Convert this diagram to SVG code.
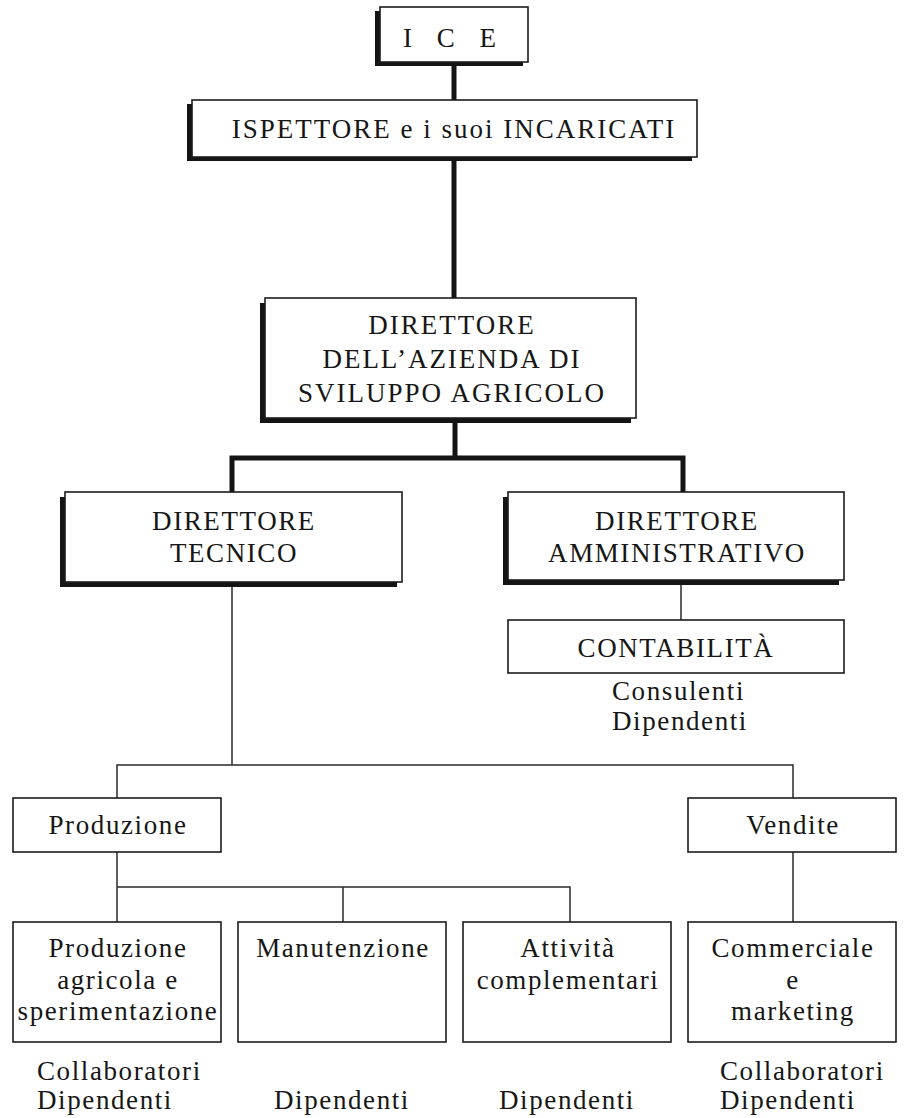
<svg xmlns="http://www.w3.org/2000/svg" width="904" height="1118" viewBox="0 0 904 1118">
<style>
.bx{fill:#fff;stroke:#1c1c1c;stroke-width:1.6}
.sh{fill:#141414}
.thick{fill:none;stroke:#141414;stroke-width:5;stroke-linejoin:miter}
.thin{fill:none;stroke:#2a2a2a;stroke-width:1.5}
text{font-family:"Liberation Serif","Times New Roman",serif;font-size:27px;fill:#161616;letter-spacing:1.6px}
.c{text-anchor:middle}
</style>
<rect width="904" height="1118" fill="#fff"/>
<g id="connectors">
<path class="thick" d="M454 64 V100"/>
<path class="thick" d="M454 157 V298"/>
<path class="thick" d="M455 420 V458"/>
<path class="thick" d="M232 494 V458 H683 V494"/>
<path class="thin" d="M232 582 V765"/>
<path class="thin" d="M117 798 V765 H793 V798"/>
<path class="thin" d="M681 582 V620"/>
<path class="thin" d="M117 852 V922"/>
<path class="thin" d="M117 887 H570 V922"/>
<path class="thin" d="M343 887 V922"/>
<path class="thin" d="M793 852 V922"/>
</g>
<g id="ice">
<rect class="sh" x="375" y="11" width="148" height="55"/>
<rect class="bx" x="380" y="7" width="148" height="55"/>
<text class="c" x="454" y="47" style="letter-spacing:9px">I C E</text>
</g>
<g id="ispettore">
<rect class="sh" x="187" y="104" width="505" height="57"/>
<rect class="bx" x="192" y="100" width="505" height="57"/>
<text class="c" x="454" y="138" style="letter-spacing:2px">ISPETTORE e i suoi INCARICATI</text>
</g>
<g id="direttore-azienda">
<rect class="sh" x="260" y="303" width="371" height="120"/>
<rect class="bx" x="265" y="298" width="371" height="120"/>
<text class="c" x="452" y="334" style="letter-spacing:2px">DIRETTORE</text>
<text class="c" x="452" y="368" style="letter-spacing:2px">DELL’AZIENDA DI</text>
<text class="c" x="452" y="402" style="letter-spacing:2px">SVILUPPO AGRICOLO</text>
</g>
<g id="direttore-tecnico">
<rect class="sh" x="60" y="497" width="337" height="90"/>
<rect class="bx" x="65" y="492" width="337" height="90"/>
<text class="c" x="234" y="530">DIRETTORE</text>
<text class="c" x="234" y="562">TECNICO</text>
</g>
<g id="direttore-amministrativo">
<rect class="sh" x="503" y="497" width="336" height="88"/>
<rect class="bx" x="508" y="492" width="336" height="88"/>
<text class="c" x="677" y="530">DIRETTORE</text>
<text class="c" x="677" y="562">AMMINISTRATIVO</text>
</g>
<g id="contabilita">
<rect class="bx" x="508" y="620" width="336" height="53"/>
<text class="c" x="676" y="657">CONTABILITÀ</text>
<text x="612" y="700">Consulenti</text>
<text x="612" y="730">Dipendenti</text>
</g>
<g id="produzione">
<rect class="bx" x="13" y="798" width="208" height="54"/>
<text class="c" x="118" y="834">Produzione</text>
</g>
<g id="vendite">
<rect class="bx" x="688" y="798" width="208" height="54"/>
<text class="c" x="793" y="834">Vendite</text>
</g>
<g id="produzione-agricola">
<rect class="bx" x="13" y="922" width="208" height="120"/>
<text class="c" x="118" y="957">Produzione</text>
<text class="c" x="118" y="989">agricola e</text>
<text class="c" x="118" y="1020">sperimentazione</text>
<text x="37" y="1080">Collaboratori</text>
<text x="37" y="1109">Dipendenti</text>
</g>
<g id="manutenzione">
<rect class="bx" x="238" y="922" width="208" height="120"/>
<text class="c" x="343" y="957">Manutenzione</text>
<text class="c" x="342" y="1109">Dipendenti</text>
</g>
<g id="attivita">
<rect class="bx" x="463" y="922" width="208" height="120"/>
<text class="c" x="568" y="957">Attività</text>
<text class="c" x="568" y="989">complementari</text>
<text class="c" x="567" y="1109">Dipendenti</text>
</g>
<g id="commerciale">
<rect class="bx" x="688" y="922" width="208" height="120"/>
<text class="c" x="793" y="957">Commerciale</text>
<text class="c" x="793" y="989">e</text>
<text class="c" x="793" y="1020">marketing</text>
<text x="720" y="1080">Collaboratori</text>
<text x="720" y="1109">Dipendenti</text>
</g>
</svg>
